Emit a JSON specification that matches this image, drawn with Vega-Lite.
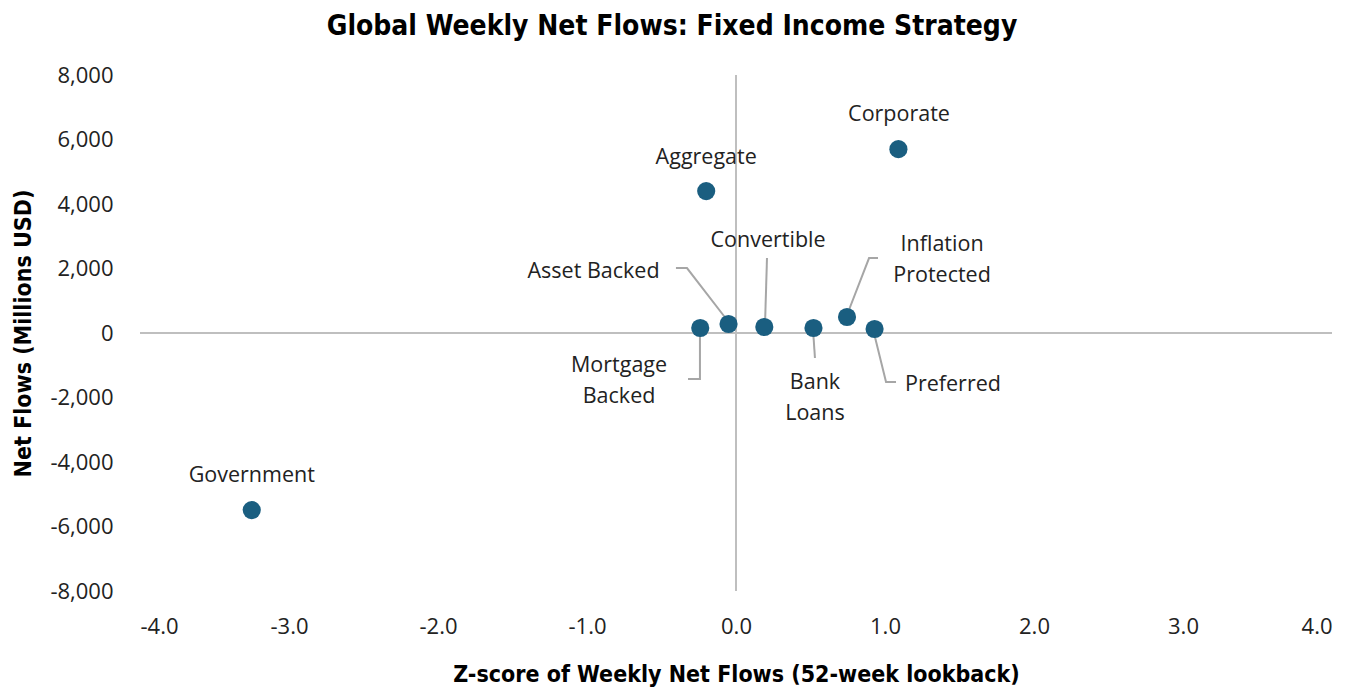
{
  "$schema": "https://vega.github.io/schema/vega-lite/v6.json",
  "autosize": {"type": "none"},
  "width": 1192,
  "height": 516,
  "padding": {"left": 140, "top": 75, "right": 32, "bottom": 101},
  "background": "white",
  "config": {
    "view": {"stroke": null},
    "text": {"lineBreak": "\n"}
  },
  "title": {
    "text": "Global Weekly Net Flows: Fixed Income Strategy",
    "font": "DejaVu Sans Condensed",
    "fontWeight": "bold",
    "fontSize": 28,
    "color": "#000000",
    "anchor": "middle",
    "dx": -64,
    "offset": 23
  },
  "datasets": {
    "points": [
      {"name": "Government", "z": -3.25, "flow": -5490},
      {"name": "Aggregate", "z": -0.20, "flow": 4400},
      {"name": "Corporate", "z": 1.09, "flow": 5700},
      {"name": "Asset Backed", "z": -0.05, "flow": 280},
      {"name": "Mortgage Backed", "z": -0.24, "flow": 155},
      {"name": "Convertible", "z": 0.19, "flow": 186},
      {"name": "Bank Loans", "z": 0.52, "flow": 155},
      {"name": "Inflation Protected", "z": 0.745, "flow": 496},
      {"name": "Preferred", "z": 0.93, "flow": 124}
    ],
    "labels": [
      {"name": "Government", "label": "Government", "lx": -3.25, "ly": -4433},
      {"name": "Aggregate", "label": "Aggregate", "lx": -0.20, "ly": 5425},
      {"name": "Corporate", "label": "Corporate", "lx": 1.094, "ly": 6758},
      {"name": "Asset Backed", "label": "Asset Backed", "lx": -0.956, "ly": 1891},
      {"name": "Convertible", "label": "Convertible", "lx": 0.215, "ly": 2852},
      {"name": "Inflation Protected", "label": "Inflation\nProtected", "lx": 1.383, "ly": 2728},
      {"name": "Mortgage Backed", "label": "Mortgage\nBacked", "lx": -0.785, "ly": -1023},
      {"name": "Bank Loans", "label": "Bank\nLoans", "lx": 0.53, "ly": -1550},
      {"name": "Preferred", "label": "Preferred", "lx": 1.456, "ly": -1612}
    ],
    "leaders": [
      {"name": "Asset Backed", "ord": 1, "x": -0.403, "y": 2015},
      {"name": "Asset Backed", "ord": 2, "x": -0.329, "y": 2015},
      {"name": "Asset Backed", "ord": 3, "x": -0.060, "y": 403},
      {"name": "Convertible", "ord": 1, "x": 0.208, "y": 2325},
      {"name": "Convertible", "ord": 2, "x": 0.195, "y": 310},
      {"name": "Mortgage Backed", "ord": 1, "x": -0.242, "y": 31},
      {"name": "Mortgage Backed", "ord": 2, "x": -0.242, "y": -1426},
      {"name": "Mortgage Backed", "ord": 3, "x": -0.322, "y": -1426},
      {"name": "Bank Loans", "ord": 1, "x": 0.517, "y": 93},
      {"name": "Bank Loans", "ord": 2, "x": 0.530, "y": -775},
      {"name": "Inflation Protected", "ord": 1, "x": 0.953, "y": 2325},
      {"name": "Inflation Protected", "ord": 2, "x": 0.893, "y": 2325},
      {"name": "Inflation Protected", "ord": 3, "x": 0.745, "y": 558},
      {"name": "Preferred", "ord": 1, "x": 0.926, "y": 0},
      {"name": "Preferred", "ord": 2, "x": 1.007, "y": -1519},
      {"name": "Preferred", "ord": 3, "x": 1.074, "y": -1519}
    ]
  },
  "layer": [
    {
      "data": {"name": "points"},
      "mark": {"type": "point", "opacity": 0},
      "encoding": {
        "x": {
          "field": "z", "type": "quantitative",
          "scale": {"domain": [-4, 4], "nice": false, "zero": false},
          "axis": {
            "title": "Z-score of Weekly Net Flows (52-week lookback)",
            "values": [-4, -3, -2, -1, 0, 1, 2, 3, 4],
            "format": ".1f",
            "labelExpr": "replace(datum.label, '\u2212', '-')",
            "domain": false, "ticks": false, "grid": false,
            "labelFont": "Open Sans", "labelFontSize": 22, "labelColor": "#222222",
            "labelPadding": 25,
            "titleFont": "DejaVu Sans Condensed", "titleFontWeight": "bold",
            "titleFontSize": 23, "titleColor": "#000000", "titlePadding": 26
          }
        },
        "y": {
          "field": "flow", "type": "quantitative",
          "scale": {"domain": [-8000, 8000], "nice": false, "zero": false},
          "axis": {
            "title": "Net Flows (Millions USD)",
            "values": [-8000, -6000, -4000, -2000, 0, 2000, 4000, 6000, 8000],
            "format": ",.0f",
            "labelExpr": "replace(datum.label, '\u2212', '-')",
            "domain": false, "ticks": false, "grid": false,
            "labelFont": "Open Sans", "labelFontSize": 22, "labelColor": "#222222",
            "labelPadding": 27,
            "titleFont": "DejaVu Sans Condensed", "titleFontWeight": "bold",
            "titleFontSize": 23, "titleColor": "#000000", "titlePadding": 14
          }
        }
      }
    },
    {
      "data": {"values": [{"zero": 0}]},
      "mark": {"type": "rule", "color": "#bfbfbf", "strokeWidth": 2},
      "encoding": {"x": {"field": "zero", "type": "quantitative"}}
    },
    {
      "data": {"values": [{"zero": 0}]},
      "mark": {"type": "rule", "color": "#bfbfbf", "strokeWidth": 2},
      "encoding": {"y": {"field": "zero", "type": "quantitative"}}
    },
    {
      "data": {"name": "leaders"},
      "mark": {"type": "line", "color": "#a6a6a6", "strokeWidth": 2},
      "encoding": {
        "x": {"field": "x", "type": "quantitative"},
        "y": {"field": "y", "type": "quantitative"},
        "detail": {"field": "name"},
        "order": {"field": "ord"}
      }
    },
    {
      "data": {"name": "points"},
      "mark": {"type": "circle", "size": 330, "color": "#1a5e80", "opacity": 1},
      "encoding": {
        "x": {"field": "z", "type": "quantitative"},
        "y": {"field": "flow", "type": "quantitative"}
      }
    },
    {
      "data": {"name": "labels"},
      "mark": {"type": "text", "font": "Open Sans", "fontSize": 21.5, "color": "#222222", "align": "center", "baseline": "middle", "lineHeight": 31},
      "encoding": {
        "x": {"field": "lx", "type": "quantitative"},
        "y": {"field": "ly", "type": "quantitative"},
        "text": {"field": "label"}
      }
    }
  ]
}
